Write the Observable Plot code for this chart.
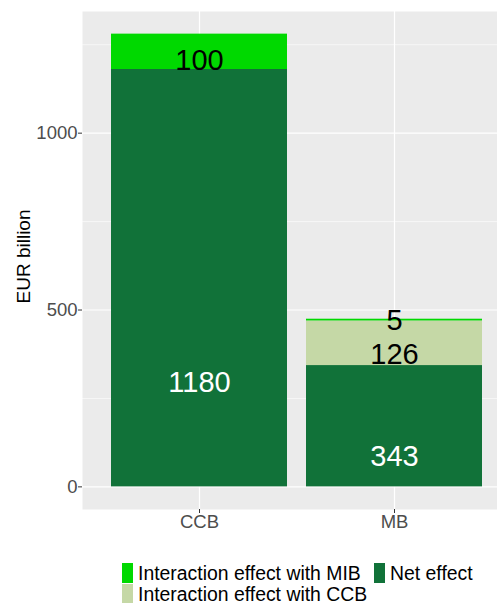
<!DOCTYPE html>
<html>
<head>
<meta charset="utf-8">
<script src="https://cdn.jsdelivr.net/npm/d3@7"></script>
<script src="https://cdn.jsdelivr.net/npm/@observablehq/plot@0.6"></script>
<style>
  html, body { margin: 0; padding: 0; background: #fff; }
  body { width: 497px; height: 603px; position: relative; overflow: hidden; font-family: "Liberation Sans", Arial, sans-serif; }
  #legend { position: absolute; left: 122px; top: 562px; display: grid; grid-template-columns: 252px auto; grid-auto-rows: 21px; font-size: 19.4px; line-height: 20px; color: #000; }
  .item { display: flex; align-items: center; white-space: nowrap; }
  .sw { width: 11px; height: 20px; margin-right: 5px; flex: none; }
</style>
</head>
<body>
<div id="chart"></div>
<div id="legend"></div>
<script>
const categories = ["CCB", "MB"];
const seriesOrder = ["Net effect", "Interaction effect with CCB", "Interaction effect with MIB"];
const netEffect = [1180, 343];
const interactionCCB = [0, 126];
const interactionMIB = [100, 5];
const seriesColors = ["#117239", "#C5D8A6", "#00D900"];
const legendOrder = ["Interaction effect with MIB", "Net effect", "Interaction effect with CCB"];
const yTicks = [0, 500, 1000];
const yMinor = [250, 750, 1250];

const seriesValues = [netEffect, interactionCCB, interactionMIB];
const rows = [];
categories.forEach((cat, i) => {
  let base = 0;
  seriesOrder.forEach((s, j) => {
    const v = seriesValues[j][i];
    rows.push({cat, series: s, value: v, labelY: base + v / 4, textColor: j === 0 ? "white" : "black"});
    base += v;
  });
});
const labelRows = rows.filter(d => d.value > 0);

const chart = Plot.plot({
  width: 497,
  height: 545,
  marginLeft: 82,
  marginRight: 0,
  marginTop: 11,
  marginBottom: 36,
  style: {fontFamily: "'Liberation Sans', Arial, sans-serif", background: "white"},
  x: {type: "band", domain: categories, range: [82, 511], paddingInner: 0.1, paddingOuter: 0.15, align: 0.5},
  y: {domain: [-64, 1344]},
  color: {domain: seriesOrder, range: seriesColors},
  marks: [
    Plot.frame({fill: "#EBEBEB", stroke: null}),
    Plot.gridY(yMinor, {stroke: "white", strokeOpacity: 1, strokeWidth: 0.6}),
    Plot.gridY(yTicks, {stroke: "white", strokeOpacity: 1, strokeWidth: 1.2}),
    Plot.gridX(categories, {stroke: "white", strokeOpacity: 1, strokeWidth: 1.2}),
    Plot.barY(rows, {x: "cat", y: "value", fill: "series", order: seriesOrder}),
    Plot.text(labelRows, {x: "cat", y: "labelY", text: d => String(d.value), fill: "textColor", fontSize: 29}),
    Plot.axisY(yTicks, {tickSize: 4, tickPadding: 1, stroke: "#333333", fill: "#4D4D4D", fontSize: 18.5, label: null, tickFormat: d => String(d)}),
    Plot.axisX({tickSize: 4, tickPadding: 1, stroke: "#333333", fill: "#4D4D4D", fontSize: 18.5, label: null}),
    Plot.text(["EUR billion"], {frameAnchor: "left", textAnchor: "middle", rotate: -90, dx: -59, dy: -4, fontSize: 19, fill: "black"})
  ]
});
document.getElementById("chart").appendChild(chart);

const legend = document.getElementById("legend");
legendOrder.forEach(s => {
  const item = document.createElement("div");
  item.className = "item";
  const sw = document.createElement("span");
  sw.className = "sw";
  sw.style.background = seriesColors[seriesOrder.indexOf(s)];
  const t = document.createElement("span");
  t.textContent = s;
  item.appendChild(sw);
  item.appendChild(t);
  legend.appendChild(item);
});
</script>
</body>
</html>
